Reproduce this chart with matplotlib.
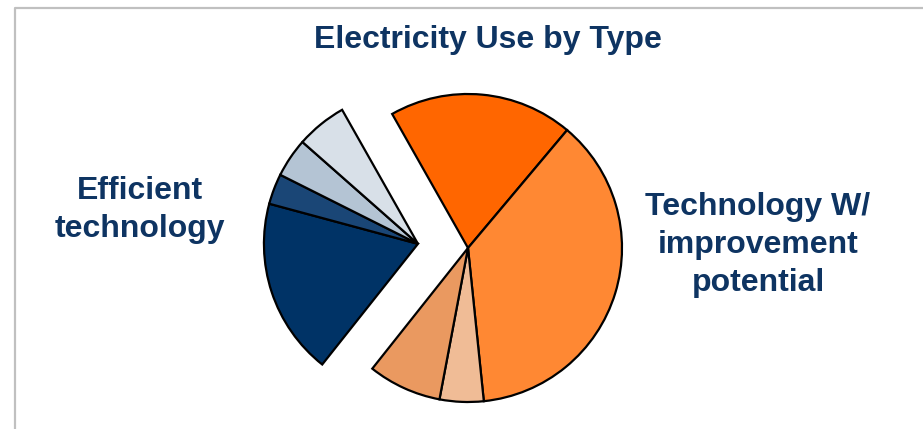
import numpy as np
import matplotlib
matplotlib.use('Agg')
import matplotlib.pyplot as plt

plt.rcParams['font.family'] = ['Liberation Sans', 'DejaVu Sans']

# slice shares (%), clockwise from the top of the orange group
slices = ['Improvable A', 'Improvable B', 'Improvable C', 'Improvable D',
          'Efficient A', 'Efficient B', 'Efficient C', 'Efficient D']
shares = [19.3, 37.2, 4.6, 7.7, 18.5, 3.2, 4.1, 5.3]
groups = ['improve', 'improve', 'improve', 'improve',
          'efficient', 'efficient', 'efficient', 'efficient']
colors = ['#FF6600', '#FF8833', '#F0BC96', '#EA9960',
          '#003366', '#1A4676', '#B4C4D4', '#D8E0E8']

title = 'Electricity Use by Type'
label_left = 'Efficient\ntechnology'
label_right = 'Technology W/\nimprovement\npotential'
navy = '#0E3462'

W, H = 923, 429
R = 154.0           # pie radius in pixels
cx, cy = 468, 248   # centre of the orange part (pixels from top-left)

fig = plt.figure(figsize=(W / 100, H / 100), dpi=100)
ax = fig.add_axes([0, 0, 1, 1])

# two pies sharing the same values, each showing only one group -> group explode
centers = {'improve': (0.0, 0.0), 'efficient': (-0.325, 0.027)}
for grp, ctr in centers.items():
    wedges, _ = ax.pie(shares, colors=colors, startangle=119.5, counterclock=False,
                       center=ctr, radius=1.0,
                       wedgeprops=dict(edgecolor='black', linewidth=1.6))
    for w, g in zip(wedges, groups):
        if g != grp:
            w.set_visible(False)

ax.set_aspect('auto')
ax.set_xlim(-cx / R, (W - cx) / R)
ax.set_ylim(-(H - cy) / R, cy / R)
ax.axis('off')

# title and group labels
fig.text(488 / W, 1 - 48 / H, title, ha='center', va='baseline',
         fontsize=23, fontweight='bold', color=navy)
fig.text(140 / W, 1 - 210 / H, label_left, ha='center', va='center',
         fontsize=23, fontweight='bold', color=navy, linespacing=1.36)
fig.text(758 / W, 1 - 245 / H, label_right, ha='center', va='center',
         fontsize=23, fontweight='bold', color=navy, linespacing=1.36)

# grey frame on top and left
fig.add_artist(plt.Line2D([15 / W, 15 / W, 1.0], [0.0, 1 - 8 / H, 1 - 8 / H],
                          transform=fig.transFigure, color='#C0C0C0', linewidth=1.6))

fig.savefig('out.png', dpi=100)
